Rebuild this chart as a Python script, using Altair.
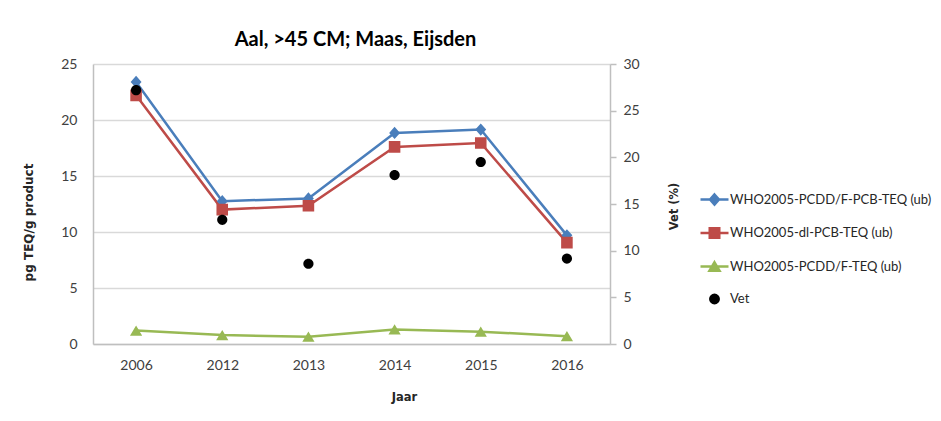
import altair as alt
import pandas as pd

# ---- data ----
years = ["2006", "2012", "2013", "2014", "2015", "2016"]
series_names = [
    "WHO2005-PCDD/F-PCB-TEQ (ub)",
    "WHO2005-dl-PCB-TEQ (ub)",
    "WHO2005-PCDD/F-TEQ (ub)",
    "Vet",
]
total_teq = [23.4, 12.75, 13.0, 18.85, 19.15, 9.7]
dl_pcb_teq = [22.2, 12.0, 12.35, 17.6, 17.95, 9.05]
pcddf_teq = [1.2, 0.8, 0.65, 1.3, 1.1, 0.7]
vet = [27.2, 13.3, 8.6, 18.1, 19.5, 9.15]

colors = ["#4A7EBB", "#BE4B48", "#98B954", "#000000"]
# custom symbols: a short horizontal line (visible only in the legend, where a stroke is drawn) + marker
shapes = [
    "M-1,0H1M0,-0.36L0.32,0L0,0.36L-0.32,0Z",
    "M-1,0H1M-0.34,-0.34H0.34V0.34H-0.34Z",
    "M-1,0H1M0,-0.3L0.36,0.3H-0.36Z",
    "M-0.3,0A0.3,0.3,0,1,1,0.3,0A0.3,0.3,0,1,1,-0.3,0Z",
]

rows = []
for name, vals in zip(series_names[:3], [total_teq, dl_pcb_teq, pcddf_teq]):
    for y, v in zip(years, vals):
        rows.append({"Jaar": y, "Reeks": name, "Waarde": v})
df_teq = pd.DataFrame(rows)
df_vet = pd.DataFrame({"Jaar": years, "Reeks": ["Vet"] * len(years), "Vet": vet})

FONT = "Lato"
TITLE_FONT = "DejaVu Sans"

legend = alt.Legend(
    title=None,
    orient="none",
    legendX=606,
    legendY=120,
    padding=0,
    symbolSize=784,
    symbolStrokeWidth=2.5,
    rowPadding=7.5,
    labelOffset=0,
    labelFont=FONT,
    labelFontSize=13,
    labelColor="#262626",
    labelLimit=400,
    symbolOpacity=1,
)

color = alt.Color(
    "Reeks:N",
    scale=alt.Scale(domain=series_names, range=colors),
    legend=legend,
)
shape = alt.Shape(
    "Reeks:N",
    scale=alt.Scale(domain=series_names, range=shapes),
    legend=legend,
)

x = alt.X(
    "Jaar:N",
    sort=years,
    scale=alt.Scale(type="point", padding=0.5),
    axis=alt.Axis(
        title="Jaar",
        labelAngle=0,
        ticks=False,
        grid=False,
        domainColor="#BFBFBF",
        domainWidth=1.5,
        labelPadding=14,
        labelFont=FONT,
        labelFontSize=14,
        labelColor="#404040",
        titleFont=TITLE_FONT,
        titleFontSize=11.5,
        titleFontWeight="bold",
        titleColor="#262626",
        titleX=311,
        titleY=53,
        titleBaseline="middle",
        titleAlign="center",
    ),
)

y_left = alt.Y(
    "Waarde:Q",
    scale=alt.Scale(domain=[0, 25], nice=False),
    axis=alt.Axis(
        title="pg TEQ/g product",
        values=[0, 5, 10, 15, 20, 25],
        ticks=False,
        grid=True,
        gridColor="#D9D9D9",
        gridWidth=1.5,
        domainColor="#BFBFBF",
        domainWidth=1.5,
        labelPadding=16,
        labelFont=FONT,
        labelFontSize=14,
        labelColor="#404040",
        titleFont=TITLE_FONT,
        titleFontSize=12,
        titleFontWeight="bold",
        titleColor="#262626",
        titleAngle=270,
        titleX=-65,
        titleY=158,
        titleBaseline="middle",
        titleAlign="center",
    ),
)

y_right = alt.Y(
    "Vet:Q",
    scale=alt.Scale(domain=[0, 30], nice=False),
    axis=alt.Axis(
        orient="right",
        title="Vet (%)",
        values=[0, 5, 10, 15, 20, 25, 30],
        grid=False,
        ticks=True,
        tickSize=6,
        tickColor="#BFBFBF",
        tickWidth=1.5,
        domainColor="#BFBFBF",
        domainWidth=1.5,
        labelPadding=7,
        labelFont=FONT,
        labelFontSize=14,
        labelColor="#404040",
        titleFont=TITLE_FONT,
        titleFontSize=11.5,
        titleFontWeight="bold",
        titleColor="#262626",
        titleAngle=270,
        titleX=64,
        titleY=142,
        titleBaseline="middle",
        titleAlign="center",
    ),
)

lines = alt.Chart(df_teq).mark_line(strokeWidth=2.5).encode(x=x, y=y_left, color=color)
points = alt.Chart(df_teq).mark_point(filled=True, size=1156, opacity=1).encode(
    x=x, y=y_left, color=color, shape=shape
)
vet_points = alt.Chart(df_vet).mark_point(filled=True, size=1156, opacity=1).encode(
    x=x, y=y_right, color=color, shape=shape
)

chart = (
    alt.layer(alt.layer(lines, points), vet_points)
    .resolve_scale(y="independent")
    .properties(
        width=517,
        height=280,
        title=alt.Title(
            "Aal, >45 CM; Maas, Eijsden",
            font=FONT,
            fontSize=20,
            fontWeight="bold",
            color="#000000",
            anchor="middle",
            baseline="middle",
            dx=4,
            dy=27,
            offset=24,
        ),
        padding={"left": 85, "top": 56, "right": 323, "bottom": 65},
        autosize=alt.AutoSizeParams(type="none"),
        background="white",
    )
    .configure_view(stroke=None)
)

chart.save("out.html", embed_options={"renderer": "svg", "actions": False})
